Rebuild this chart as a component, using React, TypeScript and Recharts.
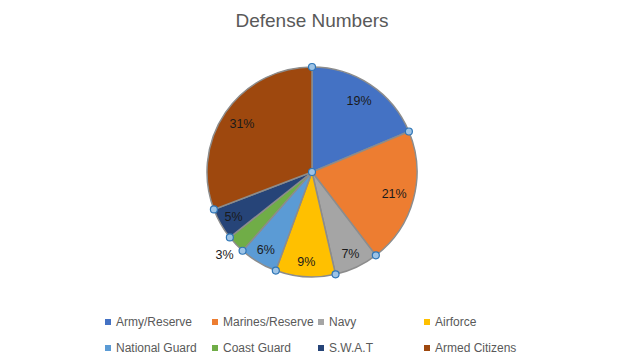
import { PieChart, Pie, Cell, Legend } from 'recharts';

const branches = [
  'Army/Reserve',
  'Marines/Reserve',
  'Navy',
  'Airforce',
  'National Guard',
  'Coast Guard',
  'S.W.A.T',
  'Armed Citizens',
];
const shares = [18.7, 20.9, 6.8, 9.2, 5.9, 2.8, 4.9, 30.8];
const colors = ['#4472C4', '#ED7D31', '#A5A5A5', '#FFC000', '#5B9BD5', '#70AD47', '#264478', '#9E480E'];

const chartData = branches.map((name, i) => ({ name, value: shares[i] }));

const RAD = Math.PI / 180;
const FONT = '"Liberation Sans", Arial, sans-serif';

const Handle = ({ x, y }: { x: number; y: number }) => (
  <circle cx={x} cy={y} r={3.5} fill="#9DC3E6" stroke="#2E75B6" strokeWidth={1.2} />
);

const renderLabel = (props: any) => {
  const { cx, cy, midAngle, startAngle, outerRadius, percent, index } = props;
  let r = percent > 0.15 ? outerRadius * 0.81 : outerRadius * 0.86;
  if (percent < 0.04) r = outerRadius * 1.15;
  const x = cx + r * Math.cos(-midAngle * RAD);
  const y = cy + r * Math.sin(-midAngle * RAD);
  const hx = cx + outerRadius * Math.cos(-startAngle * RAD);
  const hy = cy + outerRadius * Math.sin(-startAngle * RAD);
  return (
    <g>
      <text
        x={x}
        y={y}
        textAnchor="middle"
        dominantBaseline="central"
        fill="#1a1a1a"
        fontSize={12.5}
        fontFamily={FONT}
      >
        {`${Math.round(percent * 100)}%`}
      </text>
      <Handle x={hx} y={hy} />
      {index === 0 && <Handle x={cx} y={cy} />}
    </g>
  );
};

// legend laid out as a 4 x 2 grid, same order as the slices
const renderLegend = () => {
  const cols = [105, 212, 318, 424];
  return (
    <div style={{ position: 'relative', width: 619, height: 50, fontFamily: FONT, fontSize: 12, color: '#595959' }}>
      {branches.map((name, i) => (
        <div
          key={name}
          style={{
            position: 'absolute',
            left: cols[i % 4],
            top: i < 4 ? 0 : 26,
            display: 'flex',
            alignItems: 'center',
            whiteSpace: 'nowrap',
          }}
        >
          <span style={{ width: 6, height: 6, background: colors[i], display: 'inline-block', marginRight: 5 }} />
          <span>{name}</span>
        </div>
      ))}
    </div>
  );
};

export default function App() {
  return (
    <div style={{ position: 'absolute', left: 0, top: 0, width: 619, height: 360, background: '#fff' }}>
      <PieChart width={619} height={360} margin={{ top: 0, right: 0, bottom: 0, left: 0 }}>
        <text x={312} y={27} textAnchor="middle" fill="#595959" fontSize={19} fontFamily={FONT}>
          Defense Numbers
        </text>
        <Pie
          data={chartData}
          dataKey="value"
          nameKey="name"
          cx={312}
          cy={172}
          outerRadius={105}
          startAngle={90}
          endAngle={-270}
          stroke="#8C8C8C"
          strokeWidth={1.5}
          label={renderLabel}
          labelLine={false}
          isAnimationActive={false}
        >
          {chartData.map((d, i) => (
            <Cell key={d.name} fill={colors[i]} />
          ))}
        </Pie>
        <Legend
          content={renderLegend}
          wrapperStyle={{ position: 'absolute', left: 0, top: 315, width: 619 }}
        />
      </PieChart>
    </div>
  );
}
